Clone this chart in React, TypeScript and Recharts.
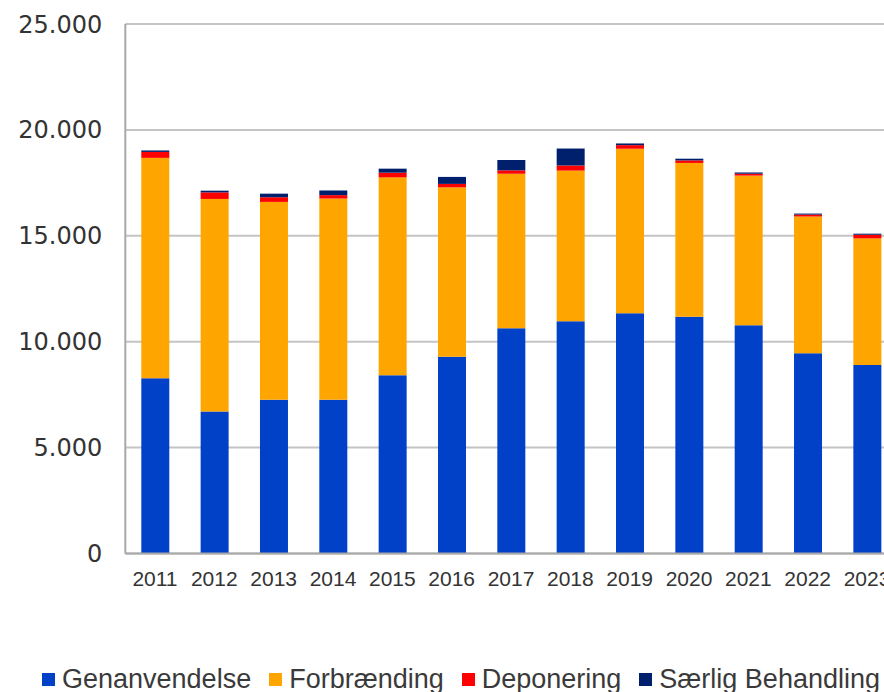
import React from "react";
import { BarChart, Bar, XAxis, YAxis, CartesianGrid, Legend } from "recharts";

const years = ["2011", "2012", "2013", "2014", "2015", "2016", "2017", "2018", "2019", "2020", "2021", "2022", "2023"];
const genanvendelse = [8270, 6710, 7260, 7260, 8420, 9290, 10630, 10960, 11340, 11180, 10780, 9450, 8900];
const forbraending = [10410, 10030, 9340, 9500, 9340, 8000, 7300, 7120, 7770, 7260, 7060, 6460, 5980];
const deponering = [280, 310, 220, 160, 220, 160, 160, 240, 170, 120, 90, 90, 170];
const saerligBehandling = [70, 80, 170, 220, 190, 330, 490, 800, 80, 80, 60, 50, 50];
const yTicks = [0, 5000, 10000, 15000, 20000, 25000];

const series = [
  { key: "Genanvendelse", color: "#0041C8", values: genanvendelse },
  { key: "Forbrænding", color: "#FFA500", values: forbraending },
  { key: "Deponering", color: "#FF0000", values: deponering },
  { key: "Særlig Behandling", color: "#00206E", values: saerligBehandling },
];

const data = years.map((y, i) => {
  const row: Record<string, string | number> = { year: y };
  series.forEach((s) => {
    row[s.key] = s.values[i];
  });
  return row;
});

const fmt = (v: number) => (v === 0 ? "0" : v.toLocaleString("de-DE"));

const LegendContent = () => (
  <div style={{ height: 98, position: "relative" }}>
    <div
      style={{
        position: "absolute",
        top: 70,
        left: 42,
        height: 30,
        display: "flex",
        alignItems: "center",
        whiteSpace: "nowrap",
        fontFamily: "'Liberation Sans', Arial, sans-serif",
        fontSize: 27,
        color: "#3A3A3A",
      }}
    >
      {series.map((s) => (
        <div key={s.key} style={{ display: "flex", alignItems: "center", marginRight: 18 }}>
          <span style={{ display: "inline-block", width: 13, height: 13, background: s.color, marginRight: 7 }} />
          <span>{s.key}</span>
        </div>
      ))}
    </div>
  </div>
);

export default function App() {
  return (
    <div style={{ position: "absolute", left: 0, top: 0, width: 884, height: 692, overflow: "hidden", background: "#fff" }}>
      <BarChart
        width={920}
        height={692}
        data={data}
        margin={{ top: 24, right: 23.3, left: 0, bottom: 0 }}
        barSize={28}
      >
        <CartesianGrid vertical={false} stroke="#C4C4C4" strokeWidth={2} />
        <XAxis
          dataKey="year"
          height={40.5}
          tickLine={false}
          tickSize={0}
          tickMargin={18}
          axisLine={{ stroke: "#A8A8A8", strokeWidth: 2 }}
          tick={{ fill: "#333333", fontSize: 21, fontFamily: "'Liberation Sans Narrow', 'Liberation Sans', Arial, sans-serif" }}
          interval={0}
        />
        <YAxis
          width={125.3}
          domain={[0, 25000]}
          ticks={yTicks}
          tickFormatter={fmt}
          tickLine={false}
          tickSize={0}
          tickMargin={23}
          axisLine={{ stroke: "#A8A8A8", strokeWidth: 2 }}
          tick={{ fill: "#333333", fontSize: 24, fontFamily: "'DejaVu Sans', sans-serif" }}
        />
        <Legend verticalAlign="bottom" content={<LegendContent />} wrapperStyle={{ left: 0, bottom: 0, width: 920 }} />
        {series.map((s) => (
          <Bar key={s.key} dataKey={s.key} stackId="a" fill={s.color} isAnimationActive={false} />
        ))}
      </BarChart>
    </div>
  );
}
